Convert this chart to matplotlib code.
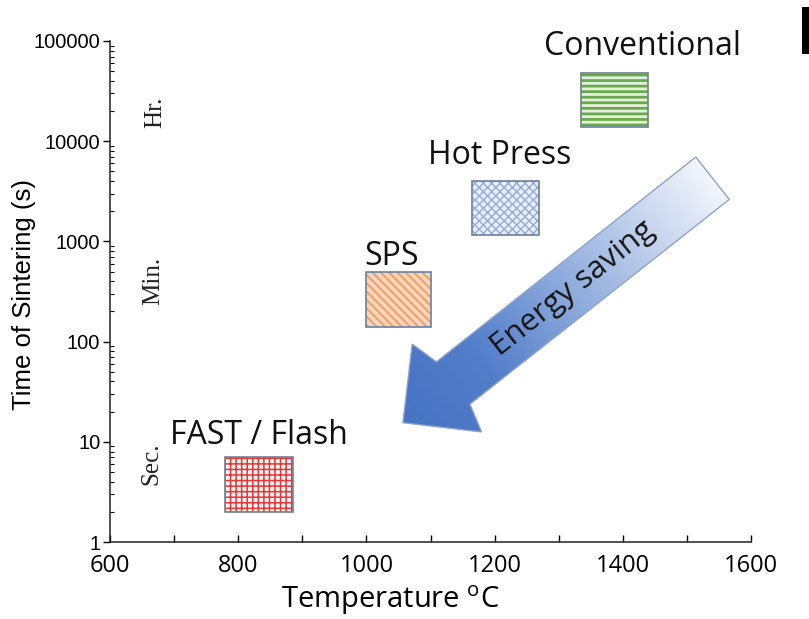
import numpy as np
import matplotlib
matplotlib.use('Agg')
import matplotlib.pyplot as plt
from matplotlib.patches import Rectangle, Polygon
from matplotlib.colors import LinearSegmentedColormap
from matplotlib.ticker import MultipleLocator, LogLocator, NullFormatter

# ---------------- data ----------------
methods = ['FAST / Flash', 'SPS', 'Hot Press', 'Conventional']
temp_lo = [780, 1000, 1165, 1335]
temp_hi = [885, 1100, 1270, 1440]
time_lo = [2, 140, 1150, 14000]
time_hi = [7, 490, 4000, 48000]
label_temp = [832, 1040, 1208, 1431]
label_time = [11.5, 700, 7200, 88000]

face_colors = ['#fdf2f2', '#f9d6bb', '#e9eff9', '#e4f1da']
hatch_colors = ['#e0383d', '#ee9f66', '#93acd9', '#6aa84f']
hatches = ['+++', '\\\\\\\\', 'xxxx', '---']
hatch_widths = [1.1, 1.4, 1.0, 2.0]

scale_labels = ['Hr.', 'Min.', 'Sec.']
scale_temp = [670, 667, 665]
scale_time = [19500, 400, 6.0]

x_ticks = [600, 800, 1000, 1200, 1400, 1600]
x_tick_labels = ['600', '800', '1000', '1200', '1400', '1600']
y_ticks = [1, 10, 100, 1000, 10000, 100000]
y_tick_labels = ['1', '10', '100', '1000', '10000', '100000']

arrow_tail = (1540, 4270)   # (temperature, time) of tail centre
arrow_tip = (1057, 15.5)
arrow_text = 'Energy saving'

# ---------------- figure ----------------
W, H = 809, 619
plt.rcParams['mathtext.fontset'] = 'custom'
plt.rcParams['mathtext.rm'] = 'Open Sans'
plt.rcParams['hatch.linewidth'] = 1.3

fig = plt.figure(figsize=(W / 100, H / 100), dpi=100)
fig.patch.set_facecolor('white')
ax = fig.add_axes([110 / W, 77 / H, 641 / W, 501 / H])
ax.set_yscale('log')
ax.set_xlim(600, 1600)
ax.set_ylim(1, 100000)
ax.patch.set_alpha(0)
for s in ['top', 'right']:
    ax.spines[s].set_visible(False)
for s in ['left', 'bottom']:
    ax.spines[s].set_linewidth(1.1)
    ax.spines[s].set_color('#222222')

ax.set_xticks(x_ticks)
ax.set_xticklabels(x_tick_labels, fontsize=17, fontfamily='Open Sans')
ax.xaxis.set_minor_locator(MultipleLocator(100))
ax.tick_params(axis='x', which='both', direction='in', length=5, width=1, pad=9)
ax.set_yticks(y_ticks)
ax.set_yticklabels(y_tick_labels, fontsize=14.5, fontfamily='Liberation Sans')
ax.yaxis.set_minor_locator(LogLocator(base=10, subs=np.arange(2, 10)))
ax.yaxis.set_minor_formatter(NullFormatter())
ax.tick_params(axis='y', which='major', direction='out', length=5, width=1, pad=2)
ax.tick_params(axis='y', which='minor', direction='in', length=3, width=0.8)

# boxes
for i in range(len(methods)):
    x0, x1 = temp_lo[i], temp_hi[i]
    y0, y1 = time_lo[i], time_hi[i]
    r = Rectangle((x0, y0), x1 - x0, y1 - y0, facecolor=face_colors[i],
                  edgecolor=hatch_colors[i], hatch=hatches[i], lw=0, zorder=2)
    if hasattr(r, 'set_hatch_linewidth'):
        r.set_hatch_linewidth(hatch_widths[i])
    ax.add_patch(r)
    ax.add_patch(Rectangle((x0, y0), x1 - x0, y1 - y0, facecolor='none',
                           edgecolor='#6f7f9a', lw=1.2, zorder=3))
    ax.text(label_temp[i], label_time[i], methods[i], fontsize=23,
            fontfamily='Open Sans', ha='center', va='center', color='#111111')

for lab, tx, ty in zip(scale_labels, scale_temp, scale_time):
    ax.text(tx, ty, lab, rotation=90, fontsize=18, fontfamily='Liberation Serif',
            ha='center', va='center', color='#222222')

# axis titles
fig.text(390 / W, 1 - 600 / H, r'Temperature $^{\mathrm{o}}$C', fontsize=21,
         fontfamily='Open Sans', ha='center', va='center')
fig.text(24 / W, 1 - 295 / H, 'Time of Sintering (s)', rotation=90, fontsize=18.5,
         fontfamily='Liberation Sans', ha='center', va='center')

# ---------------- arrow (overlay in pixel coords) ----------------
ov = fig.add_axes([0, 0, 1, 1], zorder=5)
ov.set_xlim(0, W)
ov.set_ylim(0, H)
ov.axis('off')

P0 = ax.transData.transform(arrow_tail)
P1 = ax.transData.transform(arrow_tip)
d = P1 - P0
L = np.hypot(*d)
u = d / L
n = np.array([-u[1], u[0]])
w_shaft, w_head = 27, 56
junc, barb = L - 64, L - 56
pts = [P0 + w_shaft * n,
       P0 + junc * u + w_shaft * n,
       P0 + barb * u + w_head * n,
       P1,
       P0 + barb * u - w_head * n,
       P0 + junc * u - w_shaft * n,
       P0 - w_shaft * n]
pts = np.array(pts)
poly = Polygon(pts, closed=True, facecolor='none', edgecolor='#8ea3c9', lw=1.0, zorder=3)
ov.add_patch(poly)

xmin, ymin = pts.min(axis=0) - 2
xmax, ymax = pts.max(axis=0) + 2
gx = np.linspace(xmin, xmax, 400)
gy = np.linspace(ymin, ymax, 400)
X, Y = np.meshgrid(gx, gy)
t = np.clip(((X - P0[0]) * u[0] + (Y - P0[1]) * u[1]) / L, 0, 1)
cmap = LinearSegmentedColormap.from_list('arr', ['#f3f6fc', '#bccdeb', '#86a5da', '#527dc9', '#4673c3'])
im = ov.imshow(t, extent=(xmin, xmax, ymin, ymax), origin='lower', cmap=cmap,
               vmin=0, vmax=1, zorder=2, aspect='auto', interpolation='bilinear')
clip = Polygon(pts, closed=True, transform=ov.transData)
im.set_clip_path(clip)

tc = P0 + 0.45 * L * u
ang = np.degrees(np.arctan2(-u[1], -u[0]))
ov.text(tc[0], tc[1], arrow_text, rotation=ang, rotation_mode='anchor',
        fontsize=22.5, fontfamily='Open Sans', ha='center', va='center', color='#151515', zorder=4)

# panel-label fragment at top right
fig.add_artist(Rectangle((802 / W, 1 - 54 / H), 7 / W, 47 / H, transform=fig.transFigure,
                         facecolor='black', edgecolor='none'))

fig.savefig('out.png', dpi=100)
